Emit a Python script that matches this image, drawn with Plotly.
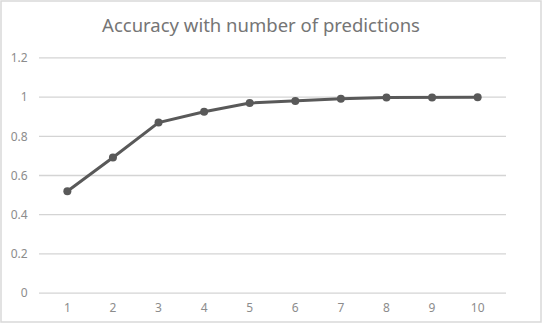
import plotly.graph_objects as go

categories = ["1", "2", "3", "4", "5", "6", "7", "8", "9", "10"]
accuracy = [0.52, 0.692, 0.87, 0.925, 0.97, 0.98, 0.992, 0.998, 0.998, 1.0]
y_ticks = [0, 0.2, 0.4, 0.6, 0.8, 1, 1.2]
y_tick_labels = ["0", "0.2", "0.4", "0.6", "0.8", "1", "1.2"]

W, H = 543, 324
pad = 0.01
ml, mr, mt, mb = 39, 37, 56, 29
pw, ph = W - ml - mr, H - mt - mb

def px_x(p):
    return (p - ml) / pw

def px_y(p):
    return (H - mb - p) / ph

fig = go.Figure()
fig.add_trace(go.Scatter(
    x=categories, y=accuracy, mode="lines+markers",
    line=dict(color="#595959", width=3),
    marker=dict(color="#595959", size=8),
    showlegend=False, hoverinfo="x+y",
))

shapes = [dict(type="rect", xref="paper", yref="paper",
               x0=px_x(1), x1=px_x(541), y0=px_y(322), y1=px_y(1),
               line=dict(color="#d9d9d9", width=1.5), fillcolor="rgba(0,0,0,0)",
               layer="below")]
for v in y_ticks:
    shapes.append(dict(type="line", xref="paper", yref="y", x0=0, x1=1, y0=v, y1=v,
                       line=dict(color="#d4d4d4", width=1.3), layer="below"))

fig.update_layout(
    width=W, height=H,
    margin=dict(l=ml, r=mr, t=mt, b=mb),
    paper_bgcolor="white", plot_bgcolor="white",
    font=dict(family="Noto Sans, DejaVu Sans, sans-serif", color="#8c8c8c", size=12),
    title=dict(text="Accuracy with number of predictions", x=261 / W, xanchor="center",
               y=1 - 26 / H, yanchor="middle",
               font=dict(size=18.5, color="#757575")),
    xaxis=dict(type="category", showgrid=False, showline=False, zeroline=False,
               automargin=False,
               ticks="outside", ticklen=2, tickcolor="rgba(0,0,0,0)",
               tickfont=dict(size=12, color="#8c8c8c")),
    yaxis=dict(range=[-pad, 1.2 + pad], tickvals=y_ticks, ticktext=y_tick_labels,
               showgrid=False, zeroline=False, showline=False, automargin=False,
               ticks="outside", ticklen=8, tickcolor="rgba(0,0,0,0)",
               tickfont=dict(size=12, color="#8c8c8c")),
    shapes=shapes,
)

fig.write_html("out.html")
